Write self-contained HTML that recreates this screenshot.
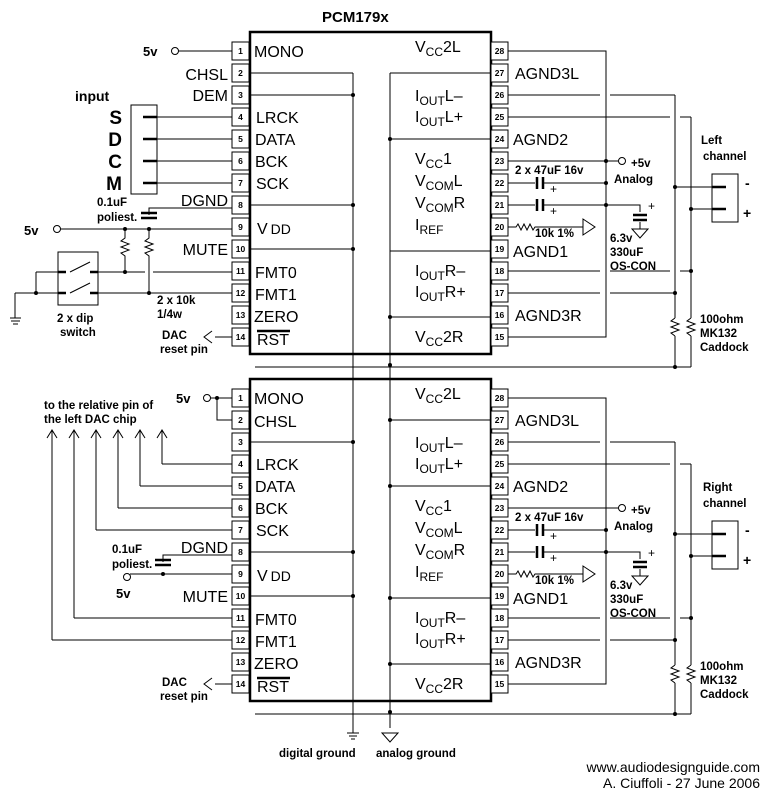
<!DOCTYPE html>
<html><head><meta charset="utf-8"><style>
html,body{margin:0;padding:0;background:#fff}
svg{display:block}
text{font-family:"Liberation Sans",Arial,sans-serif;fill:#000}
.pl{font-size:16px}
.b{font-weight:bold;font-size:11.5px}
.n{font-size:8.5px;font-weight:bold}
</style></head><body>
<svg width="770" height="800" viewBox="0 0 770 800" xmlns="http://www.w3.org/2000/svg">
<g stroke="#000" stroke-width="1" fill="none">
<!-- ===== TOP CHIP ===== -->
<rect x="250" y="32" width="241" height="322" stroke-width="2.5"/>
<!-- left internal -->
<path d="M250 73H353M250 95H353M250 205H353M250 249H353M353 73V375"/>
<!-- right internal -->
<path d="M390 73H491M390 139H491M390 251H491M390 317H491M390 73V367"/>
<!-- bottom common line -->
<path d="M255 367H691"/>
<!-- right external -->
<path d="M508 51H606V337H508M508 161H618M508 183H535M542 183H606M508 205H535M542 205H640V212M508 249H508"/>
<path d="M508 95H600M610 95H675M508 117H670M680 117H691M508 271H600M610 271H670M680 271H691M508 293H600M610 293H675"/>
<path d="M675 95V318M675 336V367M691 117V318M691 336V367"/>
<path d="M675 318l-4 3 8 3-8 3 8 3-8 3 4 3M691 318l-4 3 8 3-8 3 8 3-8 3 4 3"/>
<path d="M675 187H720M691 209H720"/>
<rect x="712" y="174" width="26" height="48"/>
<path d="M508 227H516l2-3 3 6 3-6 3 6 3-6 3 6 2-3H583"/>
<path d="M583 219V235L595 227Z"/>
<path d="M640 222V229M632 229H648L640 238Z"/>
<!-- left external top -->
<path d="M178 51H232M157 117H232M157 139H232M157 161H232M157 183H232"/>
<rect x="131" y="105" width="26" height="89"/>
<path d="M149 215V208H232M60 229H232M125 229V238l-4 3 8 3-8 3 8 3-8 3 4 3V272M149 229V238l-4 3 8 3-8 3 8 3-8 3 4 3V293"/>
<path d="M98 272H145M153 272H232M98 293H232M36 272H58M15 293H58M36 272V293M15 293V318"/>
<rect x="58" y="252" width="40" height="53"/>
<path d="M70 272L90 262M70 293L90 283"/>
<path d="M215 337H232M212 331L204 337L212 343"/>
<!-- ===== BOTTOM CHIP ===== -->
<rect x="250" y="379" width="241" height="322" stroke-width="2.5"/>
<path d="M250 442H353M250 552H353M250 596H353M353 375V733"/>
<path d="M390 420H491M390 486H491M390 598H491M390 664H491M390 367V728"/>
<path d="M255 714H691"/>
<path d="M508 398H606V684H508M508 508H618M508 530H535M542 530H606M508 552H535M542 552H640V559"/>
<path d="M508 442H600M610 442H675M508 464H670M680 464H691M508 618H600M610 618H670M680 618H691M508 640H600M610 640H675"/>
<path d="M675 442V665M675 683V714M691 464V665M691 683V714"/>
<path d="M675 665l-4 3 8 3-8 3 8 3-8 3 4 3M691 665l-4 3 8 3-8 3 8 3-8 3 4 3"/>
<path d="M675 534H720M691 556H720"/>
<rect x="712" y="521" width="26" height="48"/>
<path d="M508 574H516l2-3 3 6 3-6 3 6 3-6 3 6 2-3H583"/>
<path d="M583 566V582L595 574Z"/>
<path d="M640 569V576M632 576H648L640 585Z"/>
<!-- left external bottom -->
<path d="M210 398H232M217 398V420H232"/>
<path d="M162 464H232M140 486H232M118 508H232M96 530H232M74 618H232M52 640H232"/>
<path d="M162 464V430M140 486V430M118 508V430M96 530V430M74 618V430M52 640V430"/>
<path d="M157 438L162 430L167 438M135 438L140 430L145 438M113 438L118 430L123 438M91 438L96 430L101 438M69 438L74 430L79 438M47 438L52 430L57 438"/>
<path d="M163 562V555H232M130 574H232"/>
<path d="M215 684H232M212 678L204 684L212 690"/>
<!-- grounds -->
<path d="M347 733H359M349 736H357M351 739H355M10 318H21M11 321H20M13 324H18"/>
<path d="M382 733H398L390 742Z"/>
</g>
<!-- caps (thick plates) -->
<g stroke="#000" stroke-width="2.5">
<path d="M141 213H157M141 218H157M155 560H171M155 565H171"/>
<path d="M537 177V189M543 177V189M537 199V211M543 199V211M537 524V536M543 524V536M537 546V558M543 546V558"/>
<path d="M633 215H647M633 220H647M633 562H647M633 567H647"/>
<path d="M143 117H157M143 139H157M143 161H157M143 183H157M712 187H726M712 209H726M712 534H726M712 556H726"/>
<path d="M58 272H66M90 272H98M58 293H66M90 293H98"/>
<path d="M257 331H290M257 678H290"/>
</g>
<!-- open circles -->
<g stroke="#000" fill="#fff" stroke-width="1">
<circle cx="175" cy="51" r="3.5"/><circle cx="57" cy="229" r="3.5"/><circle cx="622" cy="161" r="3.5"/>
<circle cx="207" cy="398" r="3.5"/><circle cx="127" cy="577" r="3.5"/><circle cx="622" cy="508" r="3.5"/>
</g>
<!-- dots -->
<g fill="#000">
<circle cx="353" cy="95" r="2"/><circle cx="353" cy="205" r="2"/><circle cx="353" cy="249" r="2"/>
<circle cx="390" cy="139" r="2"/><circle cx="390" cy="317" r="2"/><circle cx="390" cy="365" r="2"/><circle cx="353" cy="442" r="2"/><circle cx="353" cy="552" r="2"/><circle cx="353" cy="596" r="2"/>
<circle cx="390" cy="420" r="2"/><circle cx="390" cy="486" r="2"/><circle cx="390" cy="598" r="2"/><circle cx="390" cy="664" r="2"/><circle cx="390" cy="712" r="2"/>
<circle cx="606" cy="161" r="2"/><circle cx="606" cy="183" r="2"/><circle cx="606" cy="205" r="2"/><circle cx="606" cy="530" r="2"/><circle cx="606" cy="552" r="2"/>
<circle cx="675" cy="187" r="2"/><circle cx="675" cy="293" r="2"/><circle cx="691" cy="209" r="2"/><circle cx="691" cy="271" r="2"/><circle cx="675" cy="367" r="2"/>
<circle cx="675" cy="534" r="2"/><circle cx="675" cy="640" r="2"/><circle cx="691" cy="556" r="2"/><circle cx="691" cy="618" r="2"/><circle cx="675" cy="714" r="2"/>
<circle cx="125" cy="229" r="2"/><circle cx="149" cy="229" r="2"/><circle cx="125" cy="272" r="2"/><circle cx="149" cy="293" r="2"/><circle cx="36" cy="293" r="2"/>
<circle cx="217" cy="398" r="2"/><circle cx="163" cy="574" r="2"/>
</g>
<!-- pin boxes -->
<g stroke="#000" fill="#fff" stroke-width="1">
<rect x="232" y="42" width="17" height="18"/><rect x="232" y="64" width="17" height="18"/><rect x="232" y="86" width="17" height="18"/><rect x="232" y="108" width="17" height="18"/><rect x="232" y="130" width="17" height="18"/><rect x="232" y="152" width="17" height="18"/><rect x="232" y="174" width="17" height="18"/><rect x="232" y="196" width="17" height="18"/><rect x="232" y="218" width="17" height="18"/><rect x="232" y="240" width="17" height="18"/><rect x="232" y="262" width="17" height="18"/><rect x="232" y="284" width="17" height="18"/><rect x="232" y="306" width="17" height="18"/><rect x="232" y="328" width="17" height="18"/>
<rect x="491" y="42" width="17" height="18"/><rect x="491" y="64" width="17" height="18"/><rect x="491" y="86" width="17" height="18"/><rect x="491" y="108" width="17" height="18"/><rect x="491" y="130" width="17" height="18"/><rect x="491" y="152" width="17" height="18"/><rect x="491" y="174" width="17" height="18"/><rect x="491" y="196" width="17" height="18"/><rect x="491" y="218" width="17" height="18"/><rect x="491" y="240" width="17" height="18"/><rect x="491" y="262" width="17" height="18"/><rect x="491" y="284" width="17" height="18"/><rect x="491" y="306" width="17" height="18"/><rect x="491" y="328" width="17" height="18"/>
<rect x="232" y="389" width="17" height="18"/><rect x="232" y="411" width="17" height="18"/><rect x="232" y="433" width="17" height="18"/><rect x="232" y="455" width="17" height="18"/><rect x="232" y="477" width="17" height="18"/><rect x="232" y="499" width="17" height="18"/><rect x="232" y="521" width="17" height="18"/><rect x="232" y="543" width="17" height="18"/><rect x="232" y="565" width="17" height="18"/><rect x="232" y="587" width="17" height="18"/><rect x="232" y="609" width="17" height="18"/><rect x="232" y="631" width="17" height="18"/><rect x="232" y="653" width="17" height="18"/><rect x="232" y="675" width="17" height="18"/>
<rect x="491" y="389" width="17" height="18"/><rect x="491" y="411" width="17" height="18"/><rect x="491" y="433" width="17" height="18"/><rect x="491" y="455" width="17" height="18"/><rect x="491" y="477" width="17" height="18"/><rect x="491" y="499" width="17" height="18"/><rect x="491" y="521" width="17" height="18"/><rect x="491" y="543" width="17" height="18"/><rect x="491" y="565" width="17" height="18"/><rect x="491" y="587" width="17" height="18"/><rect x="491" y="609" width="17" height="18"/><rect x="491" y="631" width="17" height="18"/><rect x="491" y="653" width="17" height="18"/><rect x="491" y="675" width="17" height="18"/>
</g>
<!-- pin numbers -->
<g class="n" text-anchor="middle">
<text x="240.5" y="54" class="n">1</text><text x="240.5" y="76" class="n">2</text><text x="240.5" y="98" class="n">3</text><text x="240.5" y="120" class="n">4</text><text x="240.5" y="142" class="n">5</text><text x="240.5" y="164" class="n">6</text><text x="240.5" y="186" class="n">7</text><text x="240.5" y="208" class="n">8</text><text x="240.5" y="230" class="n">9</text><text x="240.5" y="252" class="n">10</text><text x="240.5" y="274" class="n">11</text><text x="240.5" y="296" class="n">12</text><text x="240.5" y="318" class="n">13</text><text x="240.5" y="340" class="n">14</text>
<text x="499.5" y="54" class="n">28</text><text x="499.5" y="76" class="n">27</text><text x="499.5" y="98" class="n">26</text><text x="499.5" y="120" class="n">25</text><text x="499.5" y="142" class="n">24</text><text x="499.5" y="164" class="n">23</text><text x="499.5" y="186" class="n">22</text><text x="499.5" y="208" class="n">21</text><text x="499.5" y="230" class="n">20</text><text x="499.5" y="252" class="n">19</text><text x="499.5" y="274" class="n">18</text><text x="499.5" y="296" class="n">17</text><text x="499.5" y="318" class="n">16</text><text x="499.5" y="340" class="n">15</text>
<text x="240.5" y="401" class="n">1</text><text x="240.5" y="423" class="n">2</text><text x="240.5" y="445" class="n">3</text><text x="240.5" y="467" class="n">4</text><text x="240.5" y="489" class="n">5</text><text x="240.5" y="511" class="n">6</text><text x="240.5" y="533" class="n">7</text><text x="240.5" y="555" class="n">8</text><text x="240.5" y="577" class="n">9</text><text x="240.5" y="599" class="n">10</text><text x="240.5" y="621" class="n">11</text><text x="240.5" y="643" class="n">12</text><text x="240.5" y="665" class="n">13</text><text x="240.5" y="687" class="n">14</text>
<text x="499.5" y="401" class="n">28</text><text x="499.5" y="423" class="n">27</text><text x="499.5" y="445" class="n">26</text><text x="499.5" y="467" class="n">25</text><text x="499.5" y="489" class="n">24</text><text x="499.5" y="511" class="n">23</text><text x="499.5" y="533" class="n">22</text><text x="499.5" y="555" class="n">21</text><text x="499.5" y="577" class="n">20</text><text x="499.5" y="599" class="n">19</text><text x="499.5" y="621" class="n">18</text><text x="499.5" y="643" class="n">17</text><text x="499.5" y="665" class="n">16</text><text x="499.5" y="687" class="n">15</text>
</g>
<text x="322" y="22" font-size="15" font-weight="bold">PCM179x</text>
<!-- top left labels -->
<g class="pl">
<text x="254" y="57">MONO</text>
<text x="228" y="80" text-anchor="end">CHSL</text>
<text x="228" y="101" text-anchor="end">DEM</text>
<text x="256" y="123">LRCK</text><text x="255" y="145">DATA</text><text x="255" y="167">BCK</text><text x="256" y="189">SCK</text>
<text x="228" y="206" text-anchor="end">DGND</text>
<text x="257" y="234">V<tspan font-size="14" dx="3">DD</tspan></text>
<text x="228" y="255" text-anchor="end">MUTE</text>
<text x="255" y="278">FMT0</text><text x="255" y="300">FMT1</text><text x="254" y="322">ZERO</text><text x="257" y="345">RST</text>
<!-- right labels top -->
<text x="415" y="52">V<tspan font-size="12" dy="4">CC</tspan><tspan dy="-4">2L</tspan></text>
<text x="515" y="79">AGND3L</text>
<text x="415" y="101">I<tspan font-size="12" dy="4">OUT</tspan><tspan dy="-4">L–</tspan></text>
<text x="415" y="122">I<tspan font-size="12" dy="4">OUT</tspan><tspan dy="-4">L+</tspan></text>
<text x="513" y="145">AGND2</text>
<text x="415" y="164">V<tspan font-size="12" dy="4">CC</tspan><tspan dy="-4">1</tspan></text>
<text x="415" y="186">V<tspan font-size="12" dy="4">COM</tspan><tspan dy="-4">L</tspan></text>
<text x="415" y="208">V<tspan font-size="12" dy="4">COM</tspan><tspan dy="-4">R</tspan></text>
<text x="415" y="230">I<tspan font-size="12" dy="4">REF</tspan></text>
<text x="513" y="257">AGND1</text>
<text x="415" y="276">I<tspan font-size="12" dy="4">OUT</tspan><tspan dy="-4">R–</tspan></text>
<text x="415" y="297">I<tspan font-size="12" dy="4">OUT</tspan><tspan dy="-4">R+</tspan></text>
<text x="515" y="321">AGND3R</text>
<text x="415" y="342">V<tspan font-size="12" dy="4">CC</tspan><tspan dy="-4">2R</tspan></text>
<!-- bottom chip labels -->
<text x="254" y="404">MONO</text><text x="254" y="427">CHSL</text>
<text x="256" y="470">LRCK</text><text x="255" y="492">DATA</text><text x="255" y="514">BCK</text><text x="256" y="536">SCK</text>
<text x="228" y="553" text-anchor="end">DGND</text>
<text x="257" y="581">V<tspan font-size="14" dx="3">DD</tspan></text>
<text x="228" y="602" text-anchor="end">MUTE</text>
<text x="255" y="625">FMT0</text><text x="255" y="647">FMT1</text><text x="254" y="669">ZERO</text><text x="257" y="692">RST</text>
<text x="415" y="399">V<tspan font-size="12" dy="4">CC</tspan><tspan dy="-4">2L</tspan></text>
<text x="515" y="426">AGND3L</text>
<text x="415" y="448">I<tspan font-size="12" dy="4">OUT</tspan><tspan dy="-4">L–</tspan></text>
<text x="415" y="469">I<tspan font-size="12" dy="4">OUT</tspan><tspan dy="-4">L+</tspan></text>
<text x="513" y="492">AGND2</text>
<text x="415" y="511">V<tspan font-size="12" dy="4">CC</tspan><tspan dy="-4">1</tspan></text>
<text x="415" y="533">V<tspan font-size="12" dy="4">COM</tspan><tspan dy="-4">L</tspan></text>
<text x="415" y="555">V<tspan font-size="12" dy="4">COM</tspan><tspan dy="-4">R</tspan></text>
<text x="415" y="577">I<tspan font-size="12" dy="4">REF</tspan></text>
<text x="513" y="604">AGND1</text>
<text x="415" y="623">I<tspan font-size="12" dy="4">OUT</tspan><tspan dy="-4">R–</tspan></text>
<text x="415" y="644">I<tspan font-size="12" dy="4">OUT</tspan><tspan dy="-4">R+</tspan></text>
<text x="515" y="668">AGND3R</text>
<text x="415" y="689">V<tspan font-size="12" dy="4">CC</tspan><tspan dy="-4">2R</tspan></text>
</g>
<!-- small bold annotations -->
<g font-weight="bold">
<text x="143" y="56" font-size="13">5v</text>
<text x="75" y="101" font-size="14">input</text>
<g font-size="19" text-anchor="end"><text x="122" y="124">S</text><text x="122" y="146">D</text><text x="122" y="168">C</text><text x="122" y="190">M</text></g>
<text x="24" y="235" font-size="13">5v</text>
<text x="176" y="403" font-size="13">5v</text>
<text x="116" y="598" font-size="13">5v</text>
</g>
<g class="b">
<text x="97" y="206" class="b">0.1uF</text><text x="97" y="221" class="b">poliest.</text>
<text x="112" y="553" class="b">0.1uF</text><text x="112" y="568" class="b">poliest.</text>
<text x="157" y="304" class="b">2 x 10k</text><text x="157" y="318" class="b">1/4w</text>
<text x="57" y="322" class="b">2 x dip</text><text x="60" y="336" class="b">switch</text>
<text x="162" y="339" class="b">DAC</text><text x="160" y="353" class="b">reset pin</text>
<text x="162" y="686" class="b">DAC</text><text x="160" y="700" class="b">reset pin</text>
<text x="44" y="409" class="b">to the relative pin of</text><text x="44" y="423" class="b">the left DAC chip</text>
<text x="515" y="174" class="b">2 x 47uF  16v</text><text x="515" y="521" class="b">2 x 47uF  16v</text>
<text x="631" y="167" class="b" font-size="13">+5v</text><text x="614" y="183" class="b" font-size="13">Analog</text>
<text x="631" y="514" class="b" font-size="13">+5v</text><text x="614" y="530" class="b" font-size="13">Analog</text>
<text x="535" y="237" class="b">10k 1%</text><text x="535" y="584" class="b">10k 1%</text>
<text x="610" y="242" class="b">6.3v</text><text x="610" y="256" class="b">330uF</text><text x="610" y="270" class="b">OS-CON</text>
<text x="610" y="589" class="b">6.3v</text><text x="610" y="603" class="b">330uF</text><text x="610" y="617" class="b">OS-CON</text>
<text x="700" y="323" class="b">100ohm</text><text x="700" y="337" class="b">MK132</text><text x="700" y="351" class="b">Caddock</text>
<text x="700" y="670" class="b">100ohm</text><text x="700" y="684" class="b">MK132</text><text x="700" y="698" class="b">Caddock</text>
<text x="701" y="144" class="b" font-size="13">Left</text><text x="703" y="160" class="b" font-size="13">channel</text>
<text x="703" y="491" class="b" font-size="13">Right</text><text x="703" y="507" class="b" font-size="13">channel</text>
<text x="279" y="757" class="b">digital ground</text><text x="376" y="757" class="b">analog ground</text>
</g>
<g font-size="12">
<text x="550" y="193">+</text><text x="550" y="215">+</text><text x="648" y="210">+</text>
<text x="550" y="540">+</text><text x="550" y="562">+</text><text x="648" y="557">+</text>
</g>
<g font-size="14" font-weight="bold">
<text x="745" y="188">-</text><text x="743" y="218">+</text>
<text x="745" y="535">-</text><text x="743" y="565">+</text>
</g>
<g font-size="14" text-anchor="end">
<text x="760" y="772">www.audiodesignguide.com</text>
<text x="760" y="788">A. Ciuffoli - 27 June 2006</text>
</g>
</svg>
</body></html>
